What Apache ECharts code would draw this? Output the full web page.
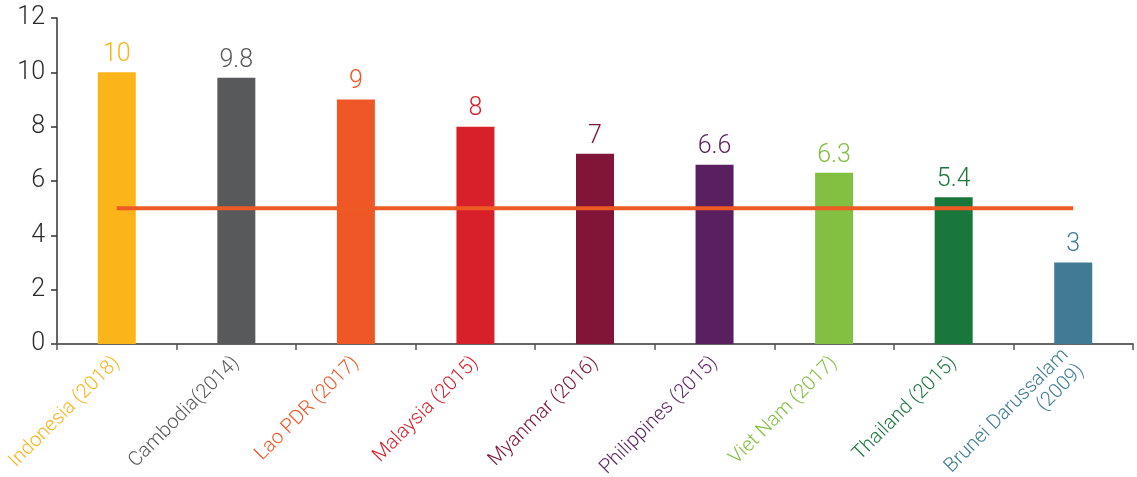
<!DOCTYPE html>
<html>
<head>
<meta charset="utf-8">
<script src="https://cdn.jsdelivr.net/npm/echarts@6/dist/echarts.min.js"></script>
<style>
  html, body { margin: 0; padding: 0; background: #fff; }
  #chart { width: 1137px; height: 477px; }
</style>
</head>
<body>
<div id="chart"></div>
<script>
// Countries with survey year
const categories = [
  'Indonesia (2018)', 'Cambodia(2014)', 'Lao PDR (2017)', 'Malaysia (2015)',
  'Myanmar (2016)', 'Philippines (2015)', 'Viet Nam (2017)', 'Thailand (2015)',
  'Brunei Darussalam\n(2009)'
];
const values = [10, 9.8, 9, 8, 7, 6.6, 6.3, 5.4, 3];
const referenceLine = [5, 5, 5, 5, 5, 5, 5, 5, 5];
const colors = [
  '#FBB419', '#58595B', '#EF5726', '#D8202A', '#811538',
  '#5A1F5F', '#83BF41', '#1A773C', '#3F7C94'
];
const yTicks = { min: 0, max: 12, interval: 2 };

const FONT = 'Roboto, "Liberation Sans", Arial, sans-serif';

const chart = echarts.init(document.getElementById('chart'), null, { renderer: 'canvas' });

chart.setOption({
  animation: false,
  grid: { left: 57, right: 4, top: 18, bottom: 133, containLabel: false, outerBoundsMode: 'none' },
  xAxis: {
    type: 'category',
    data: categories,
    axisLine: { lineStyle: { color: '#666', width: 2 } },
    axisTick: { show: true, length: 6, alignWithLabel: false, lineStyle: { color: '#555', width: 1.5 } },
    axisLabel: {
      rotate: 45,
      interval: 0,
      margin: 16,
      fontSize: 20,
      fontWeight: 300,
      fontFamily: FONT,
      align: 'right',
      lineHeight: 22,
      color: (value, index) => colors[index]
    }
  },
  yAxis: {
    type: 'value',
    min: yTicks.min,
    max: yTicks.max,
    interval: yTicks.interval,
    splitLine: { show: false },
    axisLine: { show: true, lineStyle: { color: '#333', width: 1.5 } },
    axisTick: { show: true, length: 6, lineStyle: { color: '#333', width: 1.5 } },
    axisLabel: {
      margin: 12,
      fontSize: 25,
      fontWeight: 300,
      fontFamily: FONT,
      color: '#2b2b2b'
    }
  },
  series: [
    {
      type: 'bar',
      data: values.map((v, i) => ({
        value: v,
        itemStyle: { color: colors[i] },
        label: { color: colors[i] }
      })),
      barWidth: 38,
      label: {
        show: true,
        position: 'top',
        distance: 5,
        fontSize: 25,
        fontWeight: 300,
        fontFamily: FONT
      }
    },
    {
      type: 'line',
      data: referenceLine,
      symbol: 'none',
      lineStyle: { color: '#EE5A24', width: 4 },
      z: 5
    }
  ]
});
</script>
</body>
</html>
